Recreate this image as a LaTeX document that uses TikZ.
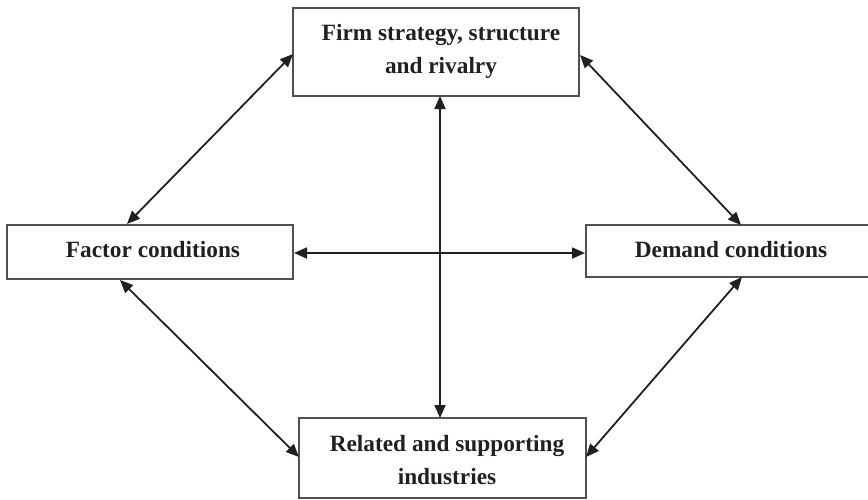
\documentclass[tikz,border=0pt]{standalone}
\usepackage{fontspec}
\setmainfont{Liberation Serif}
\usetikzlibrary{arrows.meta}
\definecolor{ink}{HTML}{231F20}
\definecolor{edge}{HTML}{505050}
\begin{document}
\begin{tikzpicture}[x=1pt,y=-1pt,
  box/.style={draw=edge,line width=1.1pt,fill=white},
  lbl/.style={font=\bfseries\fontsize{23.3}{33}\selectfont,text=ink,align=center},
  link/.style={draw=ink,line width=1.8pt,{Triangle[length=13pt,width=11pt]}-{Triangle[length=13pt,width=11pt]}}]
\useasboundingbox (0,0) rectangle (868,499);
% boxes
\path[box] (293,8) rectangle (579,96);
\path[box] (7,225) rectangle (293,279);
\path[box] (586,225) rectangle (875,277);
\path[box] (299,418) rectangle (586,498);
\node[lbl] (firm) at (441,51) {Firm strategy, structure\\and rivalry};
\node[lbl] (factor) at (153,250) {Factor conditions};
\node[lbl] (demand) at (731,250) {Demand conditions};
\node[lbl] (related) at (447,460) {Related and supporting\\industries};
% anchor coordinates on box edges
\coordinate (fL) at (293,54);
\coordinate (fR) at (580,55);
\coordinate (fB) at (440,96);
\coordinate (aT) at (127,224);
\coordinate (aB) at (120,280);
\coordinate (aR) at (294,253);
\coordinate (dT) at (741,225);
\coordinate (dB) at (742,277);
\coordinate (dL) at (585,253);
\coordinate (rT) at (440,418);
\coordinate (rL) at (299,457);
\coordinate (rR) at (586,457);
% connectors
\path[link] (fL) -- (aT);
\path[link] (fR) -- (dT);
\path[link] (aB) -- (rL);
\path[link] (dB) -- (rR);
\path[link] (aR) -- (dL);
\path[link] (fB) -- (rT);
\end{tikzpicture}
\end{document}
